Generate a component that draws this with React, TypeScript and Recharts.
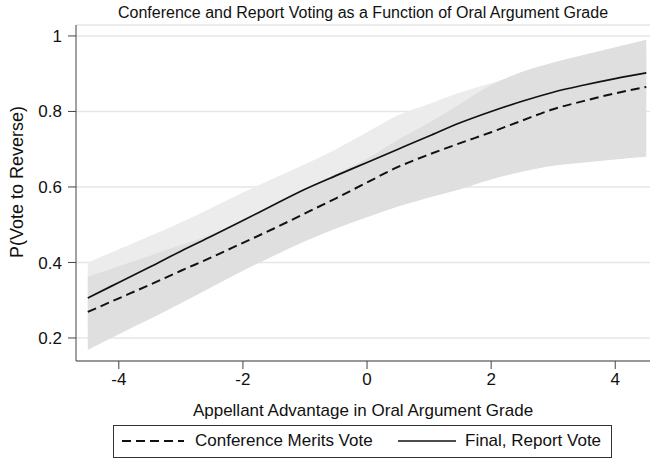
import React from "react";
import {
  ComposedChart,
  Area,
  Line,
  XAxis,
  YAxis,
  CartesianGrid,
} from "recharts";

// grade difference (appellant advantage)
const grades = [-4.5, -4, -3.5, -3, -2.5, -2, -1.5, -1, -0.5, 0, 0.5, 1, 1.5, 2, 2.5, 3, 3.5, 4, 4.5];

// final, report vote
const reportVote = [0.306, 0.347, 0.388, 0.43, 0.47, 0.511, 0.553, 0.594, 0.63, 0.665, 0.7, 0.735, 0.77, 0.8, 0.827, 0.851, 0.87, 0.887, 0.902];
const reportHi = [0.4, 0.435, 0.47, 0.506, 0.545, 0.585, 0.623, 0.66, 0.7, 0.745, 0.79, 0.82, 0.85, 0.875, 0.898, 0.915, 0.93, 0.945, 0.955];
const reportLo = [0.22, 0.26, 0.3, 0.35, 0.39, 0.43, 0.48, 0.52, 0.56, 0.59, 0.62, 0.65, 0.69, 0.72, 0.75, 0.78, 0.8, 0.82, 0.84];

// conference merits vote
const confVote = [0.269, 0.305, 0.341, 0.378, 0.414, 0.452, 0.49, 0.53, 0.57, 0.612, 0.653, 0.686, 0.716, 0.745, 0.776, 0.806, 0.828, 0.848, 0.865];
const confHi = [0.362, 0.39, 0.418, 0.446, 0.475, 0.51, 0.55, 0.595, 0.635, 0.675, 0.725, 0.77, 0.82, 0.87, 0.905, 0.93, 0.95, 0.97, 0.99];
const confLo = [0.168, 0.21, 0.25, 0.292, 0.335, 0.378, 0.418, 0.456, 0.49, 0.52, 0.548, 0.572, 0.594, 0.62, 0.64, 0.656, 0.665, 0.673, 0.68];

const xTicks = [-4, -2, 0, 2, 4];
const yTicks = [0.2, 0.4, 0.6, 0.8, 1];

const chartData = grades.map((g, i) => ({
  x: g,
  report: reportVote[i],
  conf: confVote[i],
  reportBand: [reportLo[i], reportHi[i]],
  confBand: [confLo[i], confHi[i]],
}));

const font = '"Liberation Sans", Arial, sans-serif';
const axisColor = "#444";

export default function App() {
  return (
    <div
      style={{
        position: "absolute",
        left: 0,
        top: 0,
        width: 650,
        height: 462,
        background: "#fff",
        fontFamily: font,
        color: "#111",
      }}
    >
      <div
        style={{
          position: "absolute",
          left: 76,
          top: 4,
          width: 574,
          textAlign: "center",
          fontSize: 16,
        }}
      >
        Conference and Report Voting as a Function of Oral Argument Grade
      </div>

      <ComposedChart
        width={650}
        height={462}
        data={chartData}
        margin={{ top: 25, right: 0, left: 0, bottom: 61 }}
        style={{ fontFamily: font }}
      >
        <CartesianGrid vertical={false} stroke="#e6e6e6" strokeWidth={1.5} />
        <XAxis
          type="number"
          dataKey="x"
          domain={[-4.69, 4.56]}
          ticks={xTicks}
          allowDataOverflow
          height={40}
          tickSize={8}
          tickMargin={4}
          stroke={axisColor}
          tick={{ fontSize: 17, fill: "#111" }}
          label={() => (
            <text
              x={363}
              y={416}
              textAnchor="middle"
              fontSize={17}
              fill="#111"
              fontFamily={font}
            >
              Appellant Advantage in Oral Argument Grade
            </text>
          )}
        />
        <YAxis
          type="number"
          domain={[0.139, 1.029]}
          ticks={yTicks}
          allowDataOverflow
          width={76}
          tickSize={8}
          tickMargin={6}
          stroke={axisColor}
          tick={{ fontSize: 17, fill: "#111" }}
          tickFormatter={(v: number) => (v === 1 ? "1" : v.toFixed(1))}
          label={() => (
            <text
              x={23}
              y={182}
              transform="rotate(-90 23 182)"
              textAnchor="middle"
              fontSize={18}
              fill="#111"
              fontFamily={font}
            >
              P(Vote to Reverse)
            </text>
          )}
        />

        {/* confidence bands, drawn opaque: report first, conference over it */}
        <Area
          type="monotone"
          dataKey="reportBand"
          stroke="none"
          fill="#ececec"
          fillOpacity={1}
          isAnimationActive={false}
        />
        <Area
          type="monotone"
          dataKey="confBand"
          stroke="none"
          fill="#dfdfdf"
          fillOpacity={1}
          isAnimationActive={false}
        />

        <Line
          type="monotone"
          dataKey="conf"
          stroke="#111"
          strokeWidth={2}
          strokeDasharray="9 5"
          dot={false}
          isAnimationActive={false}
        />
        <Line
          type="monotone"
          dataKey="report"
          stroke="#111"
          strokeWidth={1.7}
          dot={false}
          isAnimationActive={false}
        />
      </ComposedChart>

      {/* legend */}
      <div
        style={{
          position: "absolute",
          left: 113,
          top: 425,
          width: 499,
          height: 33,
          border: "1px solid #333",
          boxSizing: "border-box",
          fontSize: 17,
        }}
      >
        <svg width={70} height={31} style={{ position: "absolute", left: 6, top: 0 }}>
          <line x1={2} y1={15} x2={64} y2={15} stroke="#111" strokeWidth={2} strokeDasharray="9 5" />
        </svg>
        <span style={{ position: "absolute", left: 81, top: 5 }}>Conference Merits Vote</span>
        <svg width={70} height={31} style={{ position: "absolute", left: 282, top: 0 }}>
          <line x1={2} y1={15} x2={60} y2={15} stroke="#111" strokeWidth={1.7} />
        </svg>
        <span style={{ position: "absolute", left: 351, top: 5 }}>Final, Report Vote</span>
      </div>
    </div>
  );
}
